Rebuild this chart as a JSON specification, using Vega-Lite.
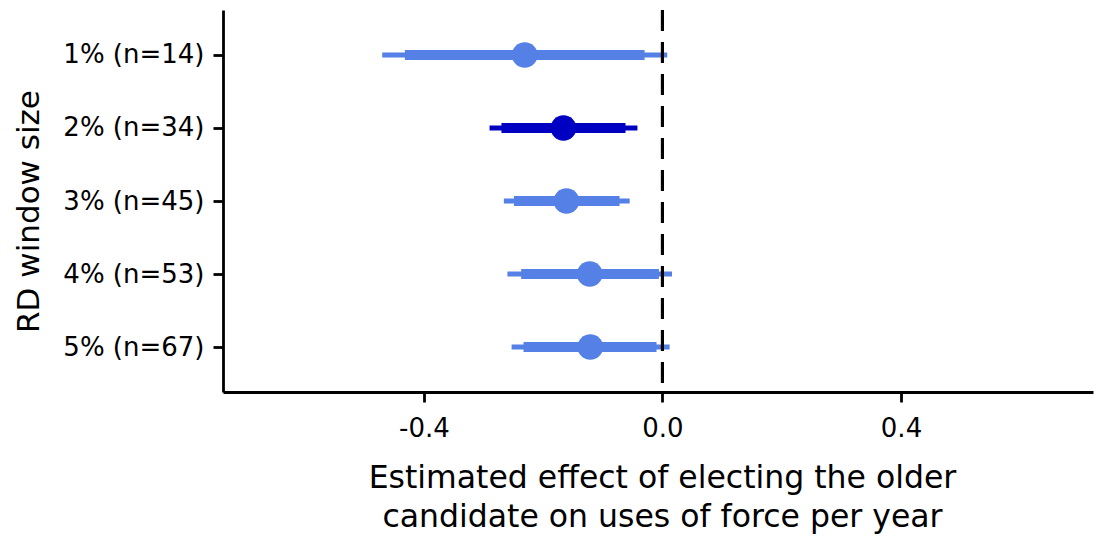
{
  "$schema": "https://vega.github.io/schema/vega-lite/v6.json",
  "width": 870,
  "height": 382,
  "autosize": {"type": "none"},
  "padding": {"left": 223, "top": 10, "right": 1, "bottom": 147},
  "background": "white",
  "config": {
    "view": {"stroke": null},
    "font": "DejaVu Sans",
    "axis": {
      "grid": false,
      "domainColor": "black",
      "domainWidth": 2.8,
      "tickColor": "black",
      "tickWidth": 2.8,
      "tickSize": 10,
      "labelColor": "black",
      "labelFont": "DejaVu Sans",
      "labelFontSize": 26,
      "titleColor": "black",
      "titleFont": "DejaVu Sans",
      "titleFontWeight": "normal"
    }
  },
  "data": {
    "values": [
      {"window": "1% (n=14)", "est": -0.231, "lo95": -0.470, "hi95": 0.008, "lo90": -0.432, "hi90": -0.030, "group": "other"},
      {"window": "2% (n=34)", "est": -0.166, "lo95": -0.290, "hi95": -0.042, "lo90": -0.270, "hi90": -0.062, "group": "main"},
      {"window": "3% (n=45)", "est": -0.161, "lo95": -0.266, "hi95": -0.055, "lo90": -0.249, "hi90": -0.072, "group": "other"},
      {"window": "4% (n=53)", "est": -0.122, "lo95": -0.260, "hi95": 0.016, "lo90": -0.237, "hi90": -0.006, "group": "other"},
      {"window": "5% (n=67)", "est": -0.121, "lo95": -0.253, "hi95": 0.012, "lo90": -0.233, "hi90": -0.010, "group": "other"}
    ]
  },
  "layer": [
    {
      "mark": {"type": "rule", "strokeWidth": 5},
      "encoding": {
        "y": {
          "field": "window", "type": "nominal",
          "scale": {"type": "point", "padding": 0.616, "domain": ["1% (n=14)", "2% (n=34)", "3% (n=45)", "4% (n=53)", "5% (n=67)"]},
          "axis": {
            "title": "RD window size",
            "titleFontSize": 31,
            "titleAngle": 270,
            "titleX": -185,
            "titleY": 201,
            "titleBaseline": "alphabetic",
            "titleAlign": "center",
            "labelPadding": 9
          }
        },
        "x": {
          "field": "lo95", "type": "quantitative",
          "scale": {"domain": [-0.737, 0.722], "nice": false, "zero": false},
          "axis": {
            "values": [-0.4, 0, 0.4],
            "labelExpr": "replace(format(datum.value, '.1f'), '\u2212', '-')",
            "labelPadding": 13,
            "title": ["Estimated effect of electing the older", "candidate on uses of force per year"],
            "titleFontSize": 31.5,
            "titleX": 439,
            "titleY": 70,
            "titleBaseline": "top",
            "titleAlign": "center",
            "titleLineHeight": 39
          }
        },
        "x2": {"field": "hi95"},
        "color": {"field": "group", "type": "nominal", "scale": {"domain": ["other", "main"], "range": ["#5580E5", "#0000C2"]}, "legend": null}
      }
    },
    {
      "mark": {"type": "rule", "strokeWidth": 10},
      "encoding": {
        "y": {"field": "window", "type": "nominal"},
        "x": {"field": "lo90", "type": "quantitative"},
        "x2": {"field": "hi90"},
        "color": {"field": "group", "type": "nominal", "legend": null}
      }
    },
    {
      "mark": {"type": "point", "filled": true, "opacity": 1, "size": 660},
      "encoding": {
        "y": {"field": "window", "type": "nominal"},
        "x": {"field": "est", "type": "quantitative"},
        "color": {"field": "group", "type": "nominal", "legend": null}
      }
    },
    {
      "mark": {"type": "rule", "color": "black", "strokeWidth": 3, "strokeDash": [21, 11]},
      "encoding": {
        "x": {"datum": 0, "type": "quantitative"}
      }
    }
  ]
}
